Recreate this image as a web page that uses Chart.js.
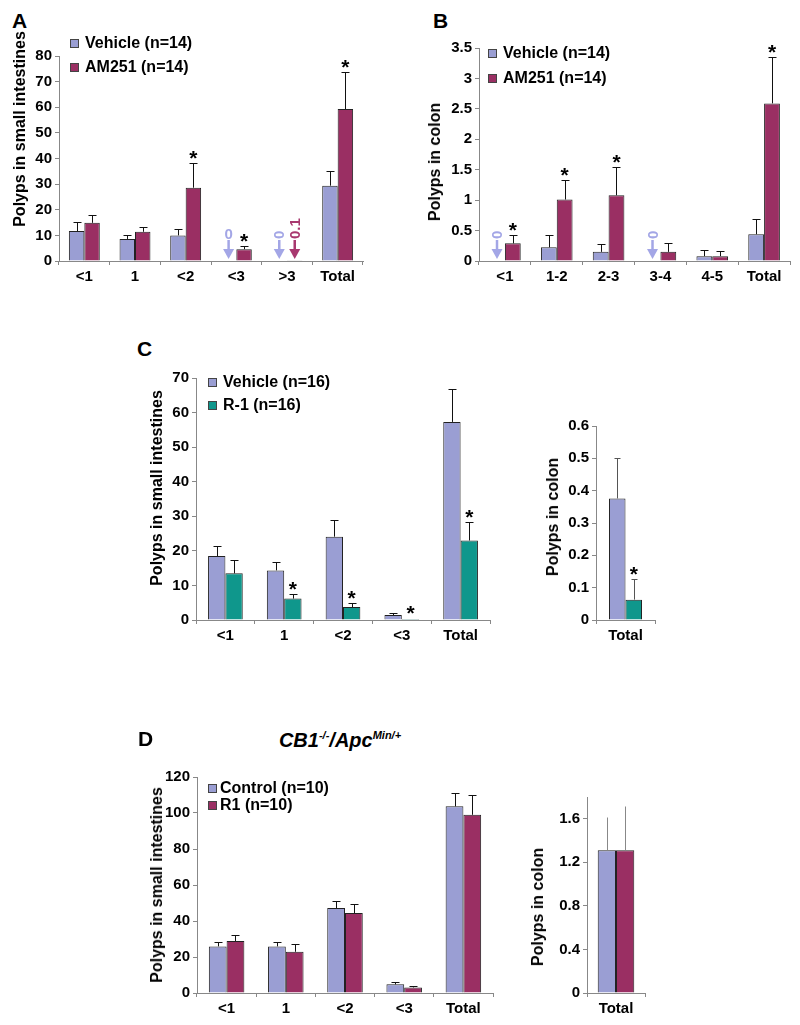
<!DOCTYPE html>
<html><head><meta charset="utf-8">
<script src="https://cdn.jsdelivr.net/npm/chart.js@4.4.0/dist/chart.umd.min.js"></script>
<style>
html,body{margin:0;padding:0;background:#fff;}
body{width:800px;height:1025px;position:relative;overflow:hidden;font-family:"Liberation Sans",Arial,Helvetica,sans-serif;}
canvas{position:absolute;}
.t{position:absolute;font-weight:bold;color:#000;white-space:nowrap;line-height:1;}
.yt{position:absolute;font-weight:bold;font-size:16px;line-height:18px;white-space:nowrap;transform:translate(-50%,-50%) rotate(-90deg);}
.sq{position:absolute;width:7px;height:7px;border:1px solid #444;}
sup{font-size:11px;vertical-align:0;position:relative;top:-8px;}
</style>
</head><body>
<script>
// ---------------- DATA ----------------
// Panel A: polyps in small intestines
const catA = ['<1', '1', '<2', '<3', '>3', 'Total'];
const aVehicle = [11.7, 8.6, 10.0, 0, 0, 29.4];
const aVehicleErr = [3.6, 1.5, 2.6, 0, 0, 5.8];
const aAM251 = [14.9, 11.4, 28.6, 4.6, 0.1, 59.3];
const aAM251Err = [3.0, 2.0, 9.8, 1.4, 0, 14.5];
const aAM251Sig = [0, 0, 1, 1, 0, 1];
const aVehicleZero = ['', '', '', '0', '0', ''];
const aAM251Zero = ['', '', '', '', '0.1', ''];
const aZeroRotated = [0, 0, 0, 0, 1, 0];

// Panel B: polyps in colon
const catB = ['<1', '1-2', '2-3', '3-4', '4-5', 'Total'];
const bVehicle = [0, 0.225, 0.15, 0, 0.08, 0.44];
const bVehicleErr = [0, 0.2, 0.13, 0, 0.1, 0.25];
const bAM251 = [0.29, 1.01, 1.08, 0.15, 0.08, 2.59];
const bAM251Err = [0.14, 0.32, 0.47, 0.15, 0.09, 0.77];
const bAM251Sig = [1, 1, 1, 0, 0, 1];
const bVehicleZero = ['0', '', '', '0', '', ''];
const bZeroRotated = [1, 1, 1, 1, 1, 1];

// Panel C: small intestines
const catC = ['<1', '1', '<2', '<3', 'Total'];
const cVehicle = [18.5, 14.35, 24.1, 1.44, 57.3];
const cVehicleErr = [2.9, 2.55, 4.9, 0.56, 9.6];
const cR1 = [13.5, 6.2, 3.75, 0.3, 23.0];
const cR1Err = [3.8, 1.4, 1.05, 0, 5.4];
const cR1Sig = [0, 1, 1, 1, 1];
// Panel C: colon
const catCColon = ['Total'];
const cColonVehicle = [0.376];
const cColonVehicleErr = [0.124];
const cColonR1 = [0.063];
const cColonR1Err = [0.064];
const cColonR1Sig = [1];

// Panel D: CB1-/-/ApcMin/+ small intestines
const catD = ['<1', '1', '<2', '<3', 'Total'];
const dControl = [25.9, 25.9, 47.2, 4.8, 103.7];
const dControlErr = [2.4, 2.4, 3.9, 1.3, 7.4];
const dR1 = [28.9, 22.9, 44.4, 3.1, 99.0];
const dR1Err = [3.5, 4.3, 4.8, 0.9, 11.0];
// Panel D: colon
const catDColon = ['Total'];
const dColonControl = [1.31];
const dColonControlErr = [0.31];
const dColonR1 = [1.31];
const dColonR1Err = [0.41];

// ---------------- STYLE ----------------
const LAV = '#9a9ed3', MAG = '#9a2f63', TEAL = '#0f978c';
const FONT = '"Liberation Sans", Arial, Helvetica, sans-serif';

const annot = {
  id: 'annot',
  afterDatasetsDraw(chart) {
    const ctx = chart.ctx, ys = chart.scales.y;
    const y0 = ys.getPixelForValue(0);
    chart.data.datasets.forEach((ds, i) => {
      const meta = chart.getDatasetMeta(i);
      meta.data.forEach((bar, j) => {
        const v = ds.data[j];
        const e = ds.errors ? ds.errors[j] : 0;
        const x = Math.round(bar.x) + 0.5;
        let top = ys.getPixelForValue(v);
        if (e > 0) {
          const ty = Math.round(ys.getPixelForValue(v + e)) + 0.5;
          ctx.save();
          ctx.strokeStyle = ds.errColor || '#111';
          ctx.lineWidth = 1;
          ctx.beginPath();
          ctx.moveTo(x, top); ctx.lineTo(x, ty);
          const cap = ds.cap === undefined ? 4 : ds.cap;
          if (cap > 0) { ctx.moveTo(x - cap, ty); ctx.lineTo(x + cap, ty); }
          ctx.stroke();
          ctx.restore();
          top = ty;
        }
        if (ds.sig && ds.sig[j]) {
          ctx.save();
          ctx.fillStyle = '#000';
          ctx.font = 'bold 21px ' + FONT;
          ctx.textAlign = 'center';
          ctx.textBaseline = 'alphabetic';
          ctx.fillText('*', bar.x, top + 1);
          ctx.restore();
        }
        if (ds.zero && ds.zero[j]) {
          const col = ds.zeroColor;
          const tip = y0 - 2;
          ctx.save();
          ctx.fillStyle = col; ctx.strokeStyle = col;
          ctx.beginPath();
          ctx.moveTo(bar.x, tip); ctx.lineTo(bar.x - 5.5, tip - 10); ctx.lineTo(bar.x + 5.5, tip - 10);
          ctx.closePath(); ctx.fill();
          ctx.lineWidth = 2.5;
          ctx.beginPath(); ctx.moveTo(bar.x, tip - 9); ctx.lineTo(bar.x, tip - 19); ctx.stroke();
          ctx.font = 'bold 15px ' + FONT;
          if (ds.zeroRot && ds.zeroRot[j]) {
            ctx.translate(bar.x, tip - 20);
            ctx.rotate(-Math.PI / 2);
            ctx.textAlign = 'left'; ctx.textBaseline = 'middle';
            ctx.fillText(ds.zero[j], 0, 1);
          } else {
            ctx.textAlign = 'center'; ctx.textBaseline = 'alphabetic';
            ctx.fillText(ds.zero[j], bar.x, tip - 20);
          }
          ctx.restore();
        }
      });
    });
  }
};

function makeChart(rect, labels, datasets, yopt, catPct) {
  const W = 46, PT = 16, PR = 12, H = 34;
  const c = document.createElement('canvas');
  const w = Math.round(rect.r - rect.l + W + PR), h = Math.round(rect.b - rect.t + PT + H);
  c.width = w; c.height = h;
  c.style.width = w + 'px'; c.style.height = h + 'px';
  c.style.left = (rect.l - W) + 'px'; c.style.top = (rect.t - PT) + 'px';
  document.body.appendChild(c);
  datasets.forEach(d => {
    d.borderColor = '#222'; d.borderWidth = 1;
    d.barPercentage = 1; d.categoryPercentage = catPct;
  });
  new Chart(c, {
    type: 'bar',
    data: { labels, datasets },
    options: {
      responsive: false, animation: false, devicePixelRatio: 1,
      layout: { padding: { top: PT, right: PR, left: 0, bottom: 0 } },
      plugins: { legend: { display: false }, tooltip: { enabled: false } },
      scales: {
        x: {
          grid: { display: true, drawOnChartArea: false, drawTicks: true, tickLength: 4, color: '#888', offset: true },
          border: { color: '#888', width: 1 },
          ticks: { color: '#000', font: { family: FONT, size: 15, weight: 'bold' }, padding: 3 },
          afterFit: s => { s.height = H; }
        },
        y: {
          min: 0, max: yopt.max,
          grid: { display: true, drawOnChartArea: false, drawTicks: true, tickLength: 4, color: '#888' },
          border: { color: '#888', width: 1 },
          ticks: {
            stepSize: yopt.step, includeBounds: false, color: '#000', padding: 3,
            font: { family: FONT, size: 15, weight: 'bold' },
            callback: v => String(+(+v).toFixed(2))
          },
          afterFit: s => { s.width = W; }
        }
      }
    },
    plugins: [annot]
  });
}

function txt(html, x, cy, fs, extra) {
  const d = document.createElement('div');
  d.className = 't';
  d.style.fontSize = fs + 'px';
  d.style.left = x + 'px';
  d.style.top = (cy - 0.49 * fs) + 'px';
  if (extra) Object.assign(d.style, extra);
  d.innerHTML = html;
  document.body.appendChild(d);
  return d;
}
function ytitle(text, cx, cy) {
  const d = document.createElement('div');
  d.className = 'yt';
  d.style.left = cx + 'px'; d.style.top = cy + 'px';
  d.textContent = text;
  document.body.appendChild(d);
}
function legendRow(sqx, tx, cy, color, text) {
  const s = document.createElement('div');
  s.className = 'sq';
  s.style.left = sqx + 'px'; s.style.top = (cy - 4.5) + 'px'; s.style.background = color;
  document.body.appendChild(s);
  txt(text, tx, cy, 16);
}

// ---------------- PANEL A ----------------
makeChart({ l: 59, r: 363, t: 56, b: 261 }, catA, [
  { label: 'Vehicle (n=14)', data: aVehicle, errors: aVehicleErr, backgroundColor: LAV,
    zero: aVehicleZero, zeroRot: aZeroRotated, zeroColor: '#a3a6e6' },
  { label: 'AM251 (n=14)', data: aAM251, errors: aAM251Err, sig: aAM251Sig, backgroundColor: MAG,
    zero: aAM251Zero, zeroRot: aZeroRotated, zeroColor: '#a8386f' }
], { max: 80, step: 10 }, 0.61);
txt('A', 12, 20.5, 21);
ytitle('Polyps in small intestines', 20, 129);
legendRow(70, 85, 43, LAV, 'Vehicle (n=14)');
legendRow(70, 85, 67, MAG, 'AM251 (n=14)');

// ---------------- PANEL B ----------------
makeChart({ l: 479, r: 790, t: 48, b: 261 }, catB, [
  { label: 'Vehicle (n=14)', data: bVehicle, errors: bVehicleErr, backgroundColor: LAV,
    zero: bVehicleZero, zeroRot: bZeroRotated, zeroColor: '#a3a6e6' },
  { label: 'AM251 (n=14)', data: bAM251, errors: bAM251Err, sig: bAM251Sig, backgroundColor: MAG }
], { max: 3.5, step: 0.5 }, 0.61);
txt('B', 433, 20, 21);
ytitle('Polyps in colon', 435, 162);
legendRow(488, 503, 53, LAV, 'Vehicle (n=14)');
legendRow(488, 503, 78, MAG, 'AM251 (n=14)');

// ---------------- PANEL C ----------------
makeChart({ l: 196, r: 490, t: 378.3, b: 620.7 }, catC, [
  { label: 'Vehicle (n=16)', data: cVehicle, errors: cVehicleErr, backgroundColor: LAV },
  { label: 'R-1 (n=16)', data: cR1, errors: cR1Err, sig: cR1Sig, backgroundColor: TEAL }
], { max: 70, step: 10 }, 0.59);
txt('C', 137, 348.5, 21);
ytitle('Polyps in small intestines', 157, 488);
legendRow(208, 223, 382, LAV, 'Vehicle (n=16)');
legendRow(208, 223, 405, TEAL, 'R-1 (n=16)');

makeChart({ l: 596, r: 655, t: 426, b: 620.3 }, catCColon, [
  { label: 'Vehicle (n=16)', data: cColonVehicle, errors: cColonVehicleErr, backgroundColor: LAV, cap: 3, errColor: '#555' },
  { label: 'R-1 (n=16)', data: cColonR1, errors: cColonR1Err, sig: cColonR1Sig, backgroundColor: TEAL, cap: 3, errColor: '#555' }
], { max: 0.6, step: 0.1 }, 0.56);
ytitle('Polyps in colon', 553, 517);

// ---------------- PANEL D ----------------
makeChart({ l: 197, r: 493, t: 777.3, b: 993.3 }, catD, [
  { label: 'Control (n=10)', data: dControl, errors: dControlErr, backgroundColor: LAV },
  { label: 'R1 (n=10)', data: dR1, errors: dR1Err, backgroundColor: MAG }
], { max: 120, step: 20 }, 0.6);
txt('D', 138, 738.5, 21);
txt('<i>CB1<sup>-/-</sup>/Apc<sup>Min/+</sup></i>', 340, 740, 20, { transform: 'translateX(-50%)' });
ytitle('Polyps in small intestines', 157, 885);
legendRow(208, 220, 788, LAV, 'Control (n=10)');
legendRow(208, 220, 805, MAG, 'R1 (n=10)');

makeChart({ l: 587, r: 645, t: 796.6, b: 992.3 }, catDColon, [
  { label: 'Control (n=10)', data: dColonControl, errors: dColonControlErr, backgroundColor: LAV, cap: 0, errColor: '#888' },
  { label: 'R1 (n=10)', data: dColonR1, errors: dColonR1Err, backgroundColor: MAG, cap: 0, errColor: '#888' }
], { max: 1.8, step: 0.4 }, 0.63);
ytitle('Polyps in colon', 538, 907);
</script>
</body></html>
